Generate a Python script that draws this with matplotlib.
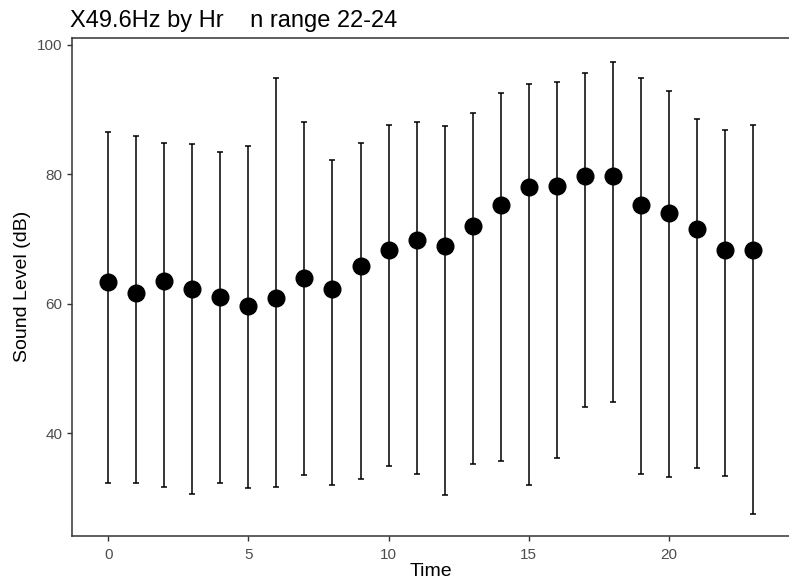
import numpy as np
import matplotlib.pyplot as plt

plt.rcParams['font.family'] = ['Liberation Sans', 'DejaVu Sans']

# hourly data
hours = list(range(24))
mean_db = [63.4, 61.7, 63.6, 62.3, 61.1, 59.7, 60.9, 64.0, 62.3, 65.8, 68.3, 69.8,
           68.9, 72.0, 75.3, 78.0, 78.2, 79.8, 79.8, 75.3, 74.1, 71.6, 68.3, 68.3]
upper_db = [86.6, 85.9, 84.9, 84.7, 83.5, 84.3, 94.8, 88.1, 82.2, 84.9, 87.6, 88.1,
            87.4, 89.4, 92.5, 94.0, 94.3, 95.6, 97.4, 94.8, 92.9, 88.6, 86.9, 87.6]
lower_db = [32.3, 32.3, 31.7, 30.7, 32.3, 31.5, 31.7, 33.6, 32.1, 32.9, 35.0, 33.8,
            30.5, 35.2, 35.8, 32.1, 36.2, 44.1, 44.9, 33.8, 33.2, 34.6, 33.4, 27.6]

mean = np.array(mean_db)
err = [mean - np.array(lower_db), np.array(upper_db) - mean]

fig = plt.figure(figsize=(7.89, 5.87), dpi=100)
ax = fig.add_axes([0.0913, 0.0874, 0.9087, 0.8484])

ax.errorbar(hours, mean, yerr=err, fmt='none', ecolor='black', elinewidth=1.1,
            capsize=2.5, capthick=1.1)
ax.plot(hours, mean, 'o', color='black', markersize=12)

ax.set_xlim(-1.3, 24.3)
ax.set_ylim(24.2, 101.1)
ax.set_xticks([0, 5, 10, 15, 20])
ax.set_yticks([40, 60, 80, 100])

for s in ['left', 'bottom', 'top']:
    ax.spines[s].set_color('#333333')
    ax.spines[s].set_linewidth(1.1)
ax.spines['right'].set_visible(False)

ax.tick_params(colors='#333333', labelcolor='#4D4D4D', labelsize=11,
               length=3.5, width=1.0)
ax.tick_params(axis='x', pad=5)
ax.set_xlabel('Time', fontsize=14, color='black', labelpad=1)
ax.set_ylabel('Sound Level (dB)', fontsize=14, color='black', labelpad=4)
ax.set_title('X49.6Hz by Hr    n range 22-24', fontsize=17, loc='left',
             pad=8, color='black', x=-0.003)

fig.savefig('out.png', dpi=100)
